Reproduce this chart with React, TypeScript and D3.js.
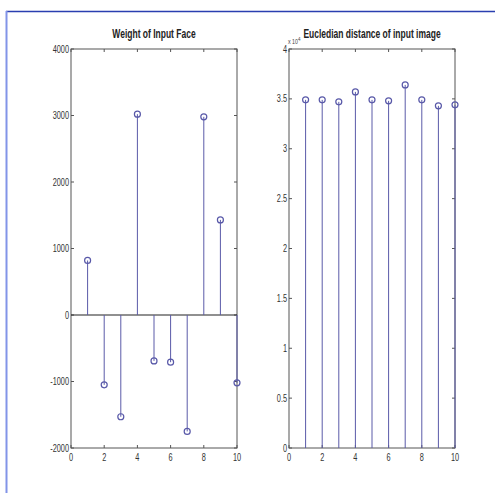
import React from "react";
import * as d3 from "d3";

const indices = [1, 2, 3, 4, 5, 6, 7, 8, 9, 10];
const weights = [820, -1050, -1530, 3020, -690, -710, -1750, 2980, 1430, -1020];
const distances = [3.49, 3.49, 3.47, 3.57, 3.49, 3.48, 3.64, 3.49, 3.43, 3.44];
const xTicks = [0, 2, 4, 6, 8, 10];
const leftYTicks = [-2000, -1000, 0, 1000, 2000, 3000, 4000];
const rightYTicks = [0, 0.5, 1, 1.5, 2, 2.5, 3, 3.5, 4];

const FONT = "'Liberation Sans', Arial, sans-serif";
const STEM = "#5a5aa8";
const MARK = "#5858a8";
const AX = "#555";

function Panel({ x0, x1, y0, y1, yDomain, yTicks, values, base, title, fmt, exponent }: any) {
  const xs = d3.scaleLinear().domain([0, 10]).range([x0, x1]);
  const ys = d3.scaleLinear().domain(yDomain).range([y1, y0]);
  const cx = (x0 + x1) / 2;
  return (
    <g>
      <rect x={x0} y={y0} width={x1 - x0} height={y1 - y0} fill="white" stroke={AX} strokeWidth={1} />
      {xTicks.map((t) => (
        <g key={"x" + t}>
          <line x1={xs(t)} x2={xs(t)} y1={y1} y2={y1 - 3} stroke={AX} />
          <line x1={xs(t)} x2={xs(t)} y1={y0} y2={y0 + 3} stroke={AX} />
          <text x={0} y={0} fontSize={10.5} fontFamily={FONT} fill="#333" textAnchor="middle"
            transform={`translate(${xs(t)},${y1 + 13}) scale(0.7,1)`}>{t}</text>
        </g>
      ))}
      {yTicks.map((t: number) => (
        <g key={"y" + t}>
          <line x1={x0} x2={x0 + 3} y1={ys(t)} y2={ys(t)} stroke={AX} />
          <line x1={x1} x2={x1 - 3} y1={ys(t)} y2={ys(t)} stroke={AX} />
          <text x={0} y={0} fontSize={10.5} fontFamily={FONT} fill="#333" textAnchor="end"
            transform={`translate(${x0 - 2},${ys(t) + 3.5}) scale(0.7,1)`}>{fmt(t)}</text>
        </g>
      ))}
      {base !== null && (
        <line x1={xs(0)} x2={xs(10)} y1={ys(base)} y2={ys(base)} stroke="#222" strokeWidth={1.2} />
      )}
      {values.map((v: number, i: number) => (
        <g key={"s" + i}>
          <line x1={xs(indices[i])} x2={xs(indices[i])} y1={ys(base ?? yDomain[0])} y2={ys(v)} stroke={STEM} strokeWidth={1} />
          <circle cx={xs(indices[i])} cy={ys(v)} r={3} fill="none" stroke={MARK} strokeWidth={1.2} />
        </g>
      ))}
      <text x={0} y={0} fontSize={12.5} fontFamily={FONT} fontWeight="bold" fill="#222" textAnchor="middle"
        transform={`translate(${cx},${y0 - 11}) scale(0.68,1)`}>{title}</text>
      {exponent && (
        <text x={0} y={0} fontSize={7} fontFamily={FONT} fill="#444"
          transform={`translate(${x0 - 1},${y0 - 5}) scale(0.75,1)`}>
          x 10<tspan dy={-3} fontSize={6}>4</tspan>
        </text>
      )}
    </g>
  );
}

export default function App() {
  return (
    <svg width={495} height={493} style={{ position: "absolute", left: 0, top: 0, background: "white" }}>
      <rect x={0} y={0} width={495} height={493} fill="white" />
      <line x1={6} x2={495} y1={11.5} y2={11.5} stroke="#2a3fb0" strokeWidth={1.5} />
      <line x1={6.5} x2={6.5} y1={11} y2={493} stroke="#8294e8" strokeWidth={2} />
      <Panel x0={71} x1={237} y0={49} y1={448} yDomain={[-2000, 4000]} yTicks={leftYTicks}
        values={weights} base={0} title="Weight of Input Face" fmt={(t: number) => String(t)} exponent={false} />
      <Panel x0={289} x1={455} y0={49} y1={448} yDomain={[0, 4]} yTicks={rightYTicks}
        values={distances} base={null} title="Eucledian distance of input image" fmt={(t: number) => String(t)} exponent={true} />
    </svg>
  );
}
